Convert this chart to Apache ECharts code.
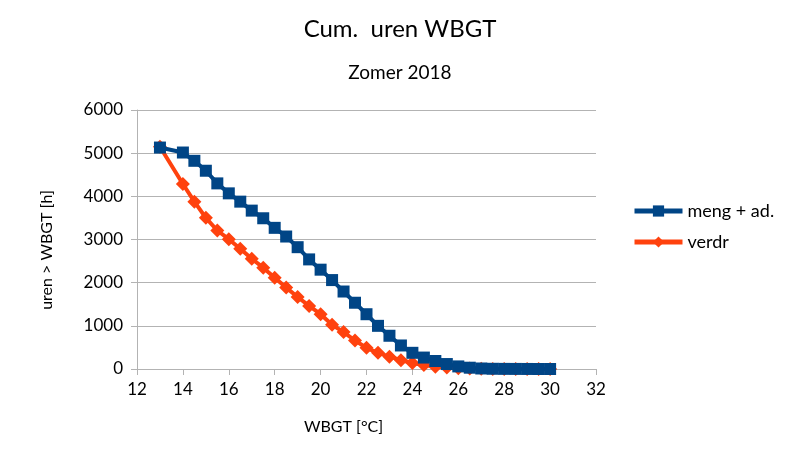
<!DOCTYPE html>
<html>
<head>
<meta charset="utf-8">
<script src="https://cdn.jsdelivr.net/npm/echarts@6/dist/echarts.min.js"></script>
<style>html,body{margin:0;padding:0;background:#fff}#c{width:800px;height:450px}</style>
</head>
<body>
<div id="c"></div>
<script>
const xValues = [13, 14, 14.5, 15, 15.5, 16, 16.5, 17, 17.5, 18, 18.5, 19, 19.5, 20, 20.5, 21, 21.5, 22, 22.5, 23, 23.5, 24, 24.5, 25, 25.5, 26, 26.5, 27, 27.5, 28, 28.5, 29, 29.5, 30];
const mengValues = [5130, 5015, 4823, 4593, 4300, 4069, 3877, 3669, 3492, 3270, 3069, 2822, 2539, 2301, 2060, 1795, 1535, 1269, 1000, 770, 545, 375, 265, 185, 115, 60, 30, 12, 5, 3, 2, 1, 0, 0];
const verdrValues = [5150, 4286, 3877, 3501, 3208, 3007, 2786, 2555, 2347, 2116, 1886, 1669, 1461, 1269, 1025, 855, 660, 490, 375, 285, 205, 140, 90, 55, 35, 20, 10, 5, 2, 1, 0, 0, 0, 0];
const seriesNames = ['meng + ad.', 'verdr'];
const xTicks = {min: 12, max: 32, interval: 2};
const yTicks = {min: 0, max: 6000, interval: 1000};

const FONT = 'Lato';
const pairs = vals => xValues.map((x, i) => [x, vals[i]]);
const chart = echarts.init(document.getElementById('c'), null, {renderer: 'canvas'});
chart.setOption({
  animation: false,
  backgroundColor: '#fff',
  textStyle: {fontFamily: FONT, color: '#000'},
  title: [
    {text: 'Cum.  uren WBGT', left: 'center', top: 12, textStyle: {fontFamily: FONT, fontSize: 24, fontWeight: 'normal', color: '#000'}},
    {text: 'Zomer 2018', left: 'center', top: 58, textStyle: {fontFamily: FONT, fontSize: 19, fontWeight: 'normal', color: '#000'}}
  ],
  legend: {
    orient: 'vertical', left: 627, top: 197, itemWidth: 48, itemHeight: 14, itemGap: 13,
    textStyle: {fontFamily: FONT, fontSize: 18, color: '#000'},
    lineStyle: {width: 5},
    data: seriesNames
  },
  grid: {left: 137, right: 204, top: 110, bottom: 81, containLabel: false},
  xAxis: {
    type: 'value', min: xTicks.min, max: xTicks.max, interval: xTicks.interval,
    name: 'WBGT [°C]', nameLocation: 'middle', nameGap: 50,
    nameTextStyle: {fontFamily: FONT, fontSize: 16, color: '#000', padding: [0, 46, 0, 0]},
    axisLine: {show: true, onZero: false, lineStyle: {color: '#b3b3b3', width: 1}},
    axisTick: {show: true, length: 6, inside: false, lineStyle: {color: '#b3b3b3'}},
    axisLabel: {fontFamily: FONT, fontSize: 17, color: '#000', margin: 12},
    splitLine: {show: false}
  },
  yAxis: {
    type: 'value', min: yTicks.min, max: yTicks.max, interval: yTicks.interval,
    name: 'uren > WBGT [h]', nameLocation: 'middle', nameGap: 82, nameRotate: 90,
    nameTextStyle: {fontFamily: FONT, fontSize: 16, color: '#000', padding: [0, 21, 0, 0]},
    axisLine: {show: true, lineStyle: {color: '#b3b3b3', width: 1}},
    axisTick: {show: true, length: 6, inside: false, lineStyle: {color: '#b3b3b3'}},
    axisLabel: {fontFamily: FONT, fontSize: 17, color: '#000', margin: 14, formatter: v => String(v)},
    splitLine: {show: true, lineStyle: {color: '#b3b3b3', width: 1}}
  },
  series: [
    {
      name: seriesNames[0], type: 'line', data: pairs(mengValues), z: 3,
      symbol: 'rect', symbolSize: 12, showAllSymbol: true,
      itemStyle: {color: '#004586'}, lineStyle: {color: '#004586', width: 4}
    },
    {
      name: seriesNames[1], type: 'line', data: pairs(verdrValues), z: 2,
      symbol: 'diamond', symbolSize: 14, showAllSymbol: true,
      itemStyle: {color: '#ff420e'}, lineStyle: {color: '#ff420e', width: 4}
    }
  ]
});
</script>
</body>
</html>
